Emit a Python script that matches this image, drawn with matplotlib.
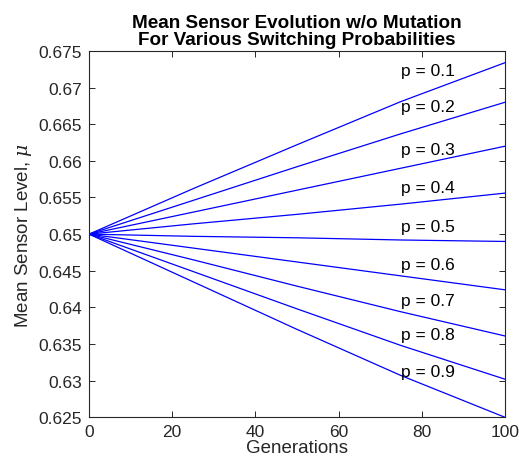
import matplotlib
import matplotlib.pyplot as plt
import numpy as np

matplotlib.use('Agg')

plt.rcParams['font.family'] = ['Liberation Sans', 'DejaVu Sans']
plt.rcParams['mathtext.fontset'] = 'dejavuserif'

# データ
generations = [0, 25, 50, 75, 100]
probs = [0.1, 0.2, 0.3, 0.4, 0.5, 0.6, 0.7, 0.8, 0.9]
mean_p01 = [0.6500, 0.6562, 0.6622, 0.6681, 0.6734]
mean_p02 = [0.6500, 0.6546, 0.6592, 0.6637, 0.6680]
mean_p03 = [0.6500, 0.6530, 0.6560, 0.6590, 0.6620]
mean_p04 = [0.6500, 0.6514, 0.6527, 0.6541, 0.6556]
mean_p05 = [0.6500, 0.6497, 0.6495, 0.6492, 0.6490]
mean_p06 = [0.6500, 0.6481, 0.6462, 0.6443, 0.6424]
mean_p07 = [0.6500, 0.6465, 0.6429, 0.6394, 0.6361]
mean_p08 = [0.6500, 0.6449, 0.6398, 0.6348, 0.6302]
mean_p09 = [0.6500, 0.6435, 0.6370, 0.6307, 0.6250]
series = [mean_p01, mean_p02, mean_p03, mean_p04, mean_p05,
          mean_p06, mean_p07, mean_p08, mean_p09]

# ラベル位置
label_x = 75
label_y = [0.6723, 0.6674, 0.6616, 0.6564, 0.6510, 0.6459, 0.6409, 0.6363, 0.6313]

yticks = [0.625, 0.63, 0.635, 0.64, 0.645, 0.65, 0.655, 0.66, 0.665, 0.67, 0.675]
ytick_labels = ['0.625', '0.63', '0.635', '0.64', '0.645', '0.65',
                '0.655', '0.66', '0.665', '0.67', '0.675']
xticks = [0, 20, 40, 60, 80, 100]

fig = plt.figure(figsize=(5.19, 4.64), dpi=100)
ax = fig.add_axes([0.1715, 0.0985, 0.8015, 0.7895])

for p, vals in zip(probs, series):
    ax.plot(generations, vals, color=(0, 0, 1), lw=0.9)

for p, ly in zip(probs, label_y):
    ax.text(label_x, ly, 'p = %.1f' % p, fontsize=12.5, va='center', ha='left')

ax.set_xlim(0, 100)
ax.set_ylim(0.625, 0.675)
ax.set_xticks(xticks)
ax.set_yticks(yticks)
ax.set_yticklabels(ytick_labels)
ax.tick_params(direction='in', top=True, right=True, length=4, width=0.7,
               labelsize=12.5, colors='0.15', labelcolor='0.15', pad=5)
for s in ax.spines.values():
    s.set_linewidth(0.8)
    s.set_color('0.15')

ax.set_xlabel('Generations', fontsize=13.5, color='0.15', labelpad=0)
ax.set_ylabel(r'Mean Sensor Level, $\mu$', fontsize=13.5, color='0.15', labelpad=3)
ax.set_title('Mean Sensor Evolution w/o Mutation\nFor Various Switching Probabilities',
             fontsize=13.6, fontweight='bold', linespacing=1.0, pad=5)

fig.savefig('out.png', dpi=100)
